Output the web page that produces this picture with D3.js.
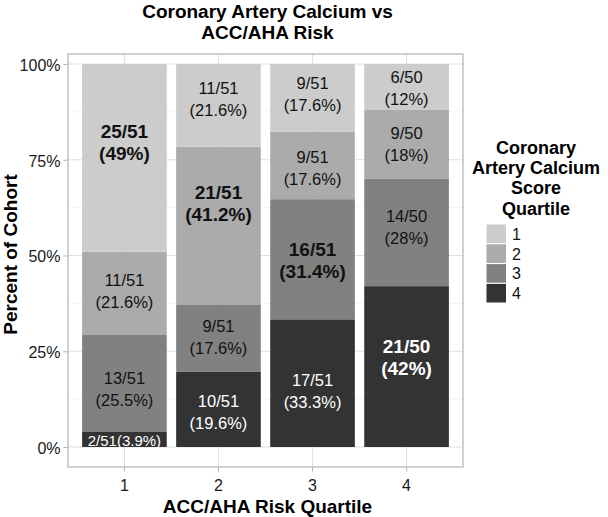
<!DOCTYPE html>
<html>
<head>
<meta charset="utf-8">
<title>Coronary Artery Calcium vs ACC/AHA Risk</title>
<script src="https://cdn.jsdelivr.net/npm/d3@7/dist/d3.min.js"></script>
<style>
  body { margin: 0; background: #fff; }
  text { font-family: "Liberation Sans", Arial, Helvetica, sans-serif; }
</style>
</head>
<body>
<div id="chart"></div>
<script>
// ---- data ----
var riskQuartiles = ["1", "2", "3", "4"];          // x categories
var cacQuartiles = ["1", "2", "3", "4"];           // stacked fill groups
// counts per risk quartile, CAC quartile 1..4
var counts = [
  [25, 11, 13, 2],
  [11, 21, 9, 10],
  [9, 9, 16, 17],
  [6, 9, 14, 21]
];
var totals = [51, 51, 51, 50];
// vertical centre of each label block, in percent of cohort
var labelPos = [
  [79.7, 40.7, 15.1, 1.7],
  [90.8, 63.7, 28.6, 9.2],
  [92.1, 72.7, 48.7, 14.7],
  [93.8, 79.2, 57.4, 23.5]
];
var yTicks = [0, 0.25, 0.5, 0.75, 1];
var yMinor = [0.125, 0.375, 0.625, 0.875];
var fills = ["#cccccc", "#ababab", "#818181", "#333333"];

// ---- layout ----
var W = 608, H = 517;
var panel = { left: 68, right: 463, top: 54, bottom: 467 };

var svg = d3.select("#chart").append("svg")
  .attr("width", W).attr("height", H);

var x = d3.scaleBand()
  .domain(riskQuartiles)
  .range([panel.left, panel.right])
  .paddingInner(0.1)
  .paddingOuter(0.15);

var y = d3.scaleLinear().domain([0, 1]).range([447, 64]);

var color = d3.scaleOrdinal().domain(cacQuartiles).range(fills);

// grid
var grid = svg.append("g");
grid.selectAll(".minor").data(yMinor).enter().append("line")
  .attr("x1", panel.left).attr("x2", panel.right)
  .attr("y1", d => y(d)).attr("y2", d => y(d))
  .attr("stroke", "#ececec").attr("stroke-width", 0.6);
grid.selectAll(".major").data(yTicks).enter().append("line")
  .attr("x1", panel.left).attr("x2", panel.right)
  .attr("y1", d => y(d)).attr("y2", d => y(d))
  .attr("stroke", "#e0e0e0").attr("stroke-width", 1.1);
grid.selectAll(".vmajor").data(riskQuartiles).enter().append("line")
  .attr("x1", d => x(d) + x.bandwidth() / 2).attr("x2", d => x(d) + x.bandwidth() / 2)
  .attr("y1", panel.top).attr("y2", panel.bottom)
  .attr("stroke", "#e0e0e0").attr("stroke-width", 1.1);

// stacked segments (CAC quartile 4 at the bottom)
var segs = [];
riskQuartiles.forEach(function (r, i) {
  var cum = 0;
  for (var j = cacQuartiles.length - 1; j >= 0; j--) {
    var p = counts[i][j] / totals[i];
    segs.push({ risk: r, cac: cacQuartiles[j], i: i, j: j, y0: cum, y1: cum + p,
      n: counts[i][j], tot: totals[i], pos: labelPos[i][j] / 100 });
    cum += p;
  }
});

svg.append("g").selectAll("rect").data(segs).enter().append("rect")
  .attr("x", d => x(d.risk))
  .attr("width", x.bandwidth())
  .attr("y", d => y(d.y1))
  .attr("height", d => y(d.y0) - y(d.y1))
  .attr("fill", d => color(d.cac));

// labels
function pctText(n, tot) {
  var s = d3.format(".1f")(n / tot * 100);
  return s.replace(/\.0$/, "") + "%";
}
var labels = svg.append("g");
segs.forEach(function (d) {
  var bold = d.i === d.j;
  var fs = bold ? 19 : 16.5;
  var cx = x(d.risk) + x.bandwidth() / 2;
  var cy = y(d.pos);
  var fill = d.cac === "4" ? "#ffffff" : "#111111";
  var t = labels.append("text")
    .attr("text-anchor", "middle")
    .attr("fill", fill)
    .attr("font-weight", bold ? "bold" : "normal")
    .attr("font-size", fs);
  if (d.y1 - d.y0 < 0.06) {
    // too small for two lines
    t.attr("x", cx).attr("y", cy + 0.36 * 15).attr("font-size", 15)
      .text(d.n + "/" + d.tot + "(" + pctText(d.n, d.tot) + ")");
  } else {
    t.append("tspan").attr("x", cx).attr("y", cy - 11 + 0.36 * fs).text(d.n + "/" + d.tot);
    t.append("tspan").attr("x", cx).attr("y", cy + 11 + 0.36 * fs).text("(" + pctText(d.n, d.tot) + ")");
  }
});

// panel border
svg.append("rect")
  .attr("x", panel.left).attr("y", panel.top)
  .attr("width", panel.right - panel.left).attr("height", panel.bottom - panel.top)
  .attr("fill", "none").attr("stroke", "#b8b8b8").attr("stroke-width", 1.3);

// axes
var yAxis = svg.append("g")
  .attr("transform", "translate(" + (panel.left - 0.5) + ",0)")
  .call(d3.axisLeft(y).tickValues(yTicks).tickFormat(d3.format(".0%")).tickSize(4).tickPadding(3));
yAxis.select(".domain").remove();
yAxis.selectAll(".tick line").attr("stroke", "#b3b3b3");
yAxis.selectAll(".tick text").attr("font-size", 16).attr("fill", "#1a1a1a")
  .attr("font-family", "Liberation Sans, Arial, sans-serif").attr("dy", "0.4em");

var xAxis = svg.append("g")
  .attr("transform", "translate(0," + (panel.bottom + 0.5) + ")")
  .call(d3.axisBottom(x).tickSize(4).tickPadding(8));
xAxis.select(".domain").remove();
xAxis.selectAll(".tick line").attr("stroke", "#b3b3b3");
xAxis.selectAll(".tick text").attr("font-size", 16).attr("fill", "#1a1a1a")
  .attr("font-family", "Liberation Sans, Arial, sans-serif");

// titles
var midX = (panel.left + panel.right) / 2;
var title = svg.append("text").attr("text-anchor", "middle")
  .attr("font-weight", "bold").attr("font-size", 19).attr("fill", "#000");
title.append("tspan").attr("x", midX + 2).attr("y", 17.5).text("Coronary Artery Calcium vs");
title.append("tspan").attr("x", midX + 2).attr("y", 39).text("ACC/AHA Risk");

svg.append("text").attr("text-anchor", "middle")
  .attr("font-weight", "bold").attr("font-size", 19).attr("fill", "#000")
  .attr("x", midX + 2).attr("y", 513)
  .text("ACC/AHA Risk Quartile");

svg.append("text").attr("text-anchor", "middle")
  .attr("font-weight", "bold").attr("font-size", 19).attr("fill", "#000")
  .attr("transform", "translate(17," + ((panel.top + panel.bottom) / 2 - 6) + ") rotate(-90)")
  .text("Percent of Cohort");

// legend
var legendTitle = ["Coronary", "Artery Calcium", "Score", "Quartile"];
var lg = svg.append("g");
lg.selectAll("text.lt").data(legendTitle).enter().append("text")
  .attr("text-anchor", "middle").attr("font-weight", "bold").attr("font-size", 18)
  .attr("x", 536).attr("y", (d, i) => 154 + i * 20.2)
  .text(d => d);

var keyY = d3.scaleBand().domain(cacQuartiles).range([224.5, 302.5]).paddingInner(0.06);
lg.selectAll("rect").data(cacQuartiles).enter().append("rect")
  .attr("x", 486.5).attr("width", 19.5)
  .attr("y", d => keyY(d)).attr("height", keyY.bandwidth())
  .attr("fill", d => color(d));
lg.selectAll("text.lab").data(cacQuartiles).enter().append("text")
  .attr("x", 512).attr("y", d => keyY(d) + keyY.bandwidth() / 2 + 6)
  .attr("font-size", 16).attr("fill", "#111")
  .text(d => d);
</script>
</body>
</html>
